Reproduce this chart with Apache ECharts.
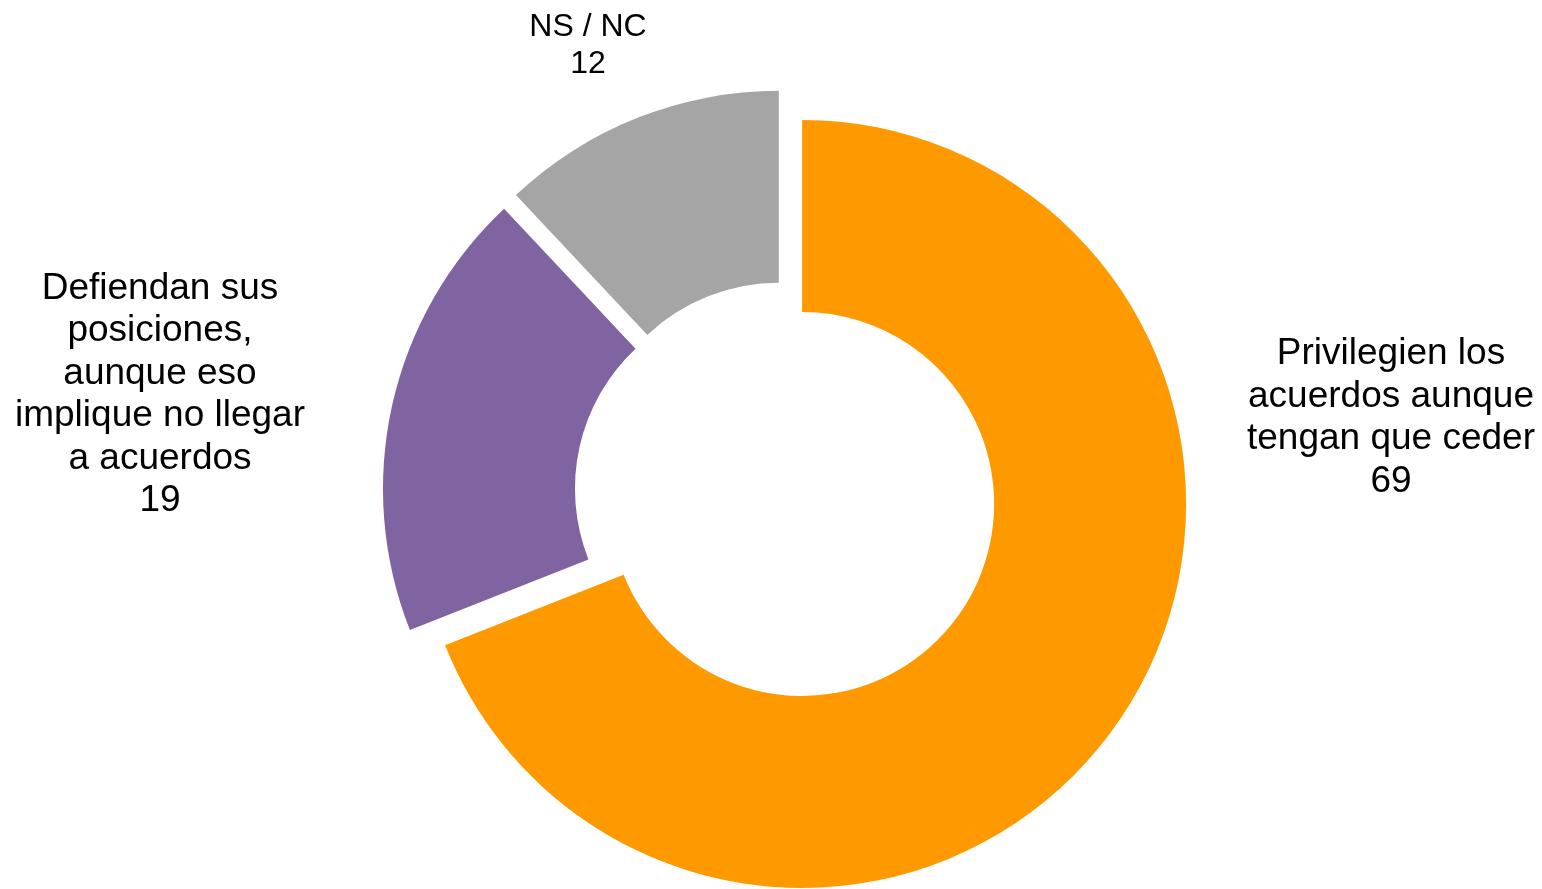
<!DOCTYPE html>
<html>
<head>
<meta charset="utf-8">
<script src="https://cdn.jsdelivr.net/npm/echarts@6/dist/echarts.min.js"></script>
<style>
  html, body { margin: 0; padding: 0; background: #fff; }
  #chart { width: 1542px; height: 889px; }
</style>
</head>
<body>
<div id="chart"></div>
<script>
var categories = [
  'Privilegien los\nacuerdos aunque\ntengan que ceder',
  'Defiendan sus\nposiciones,\naunque eso\nimplique no llegar\na acuerdos',
  'NS / NC'
];
var values = [69, 19, 12];
var colors = ['#ff9900', '#8064a2', '#a5a5a5'];

// label centres and sizes
var labelPos = [[1391, 418], [160, 395], [588, 46]];
var labelSize = [37, 37, 32];
var labelLine = [42.5, 42.5, 37];

var chart = echarts.init(document.getElementById('chart'));

var data = categories.map(function (name, i) {
  return {
    name: name,
    value: values[i],
    selected: true,
    itemStyle: { color: colors[i] }
  };
});

// pie's outside labels ignore labelLayout x/y here, so the texts go in as graphics
var labels = categories.map(function (name, i) {
  return {
    type: 'text',
    x: labelPos[i][0],
    y: labelPos[i][1],
    style: {
      text: name + '\n' + values[i],
      fill: '#000',
      font: labelSize[i] + 'px "Liberation Sans", Arial, sans-serif',
      lineHeight: labelLine[i],
      align: 'center',
      verticalAlign: 'middle'
    }
  };
});

chart.setOption({
  animation: false,
  graphic: labels,
  series: [{
    type: 'pie',
    center: [786, 493],
    radius: [192, 384],
    startAngle: 90,
    clockwise: true,
    selectedMode: 'multiple',
    selectedOffset: 19.5,
    emphasis: { disabled: true },
    label: { show: false },
    labelLine: { show: false },
    data: data
  }]
});
</script>
</body>
</html>
